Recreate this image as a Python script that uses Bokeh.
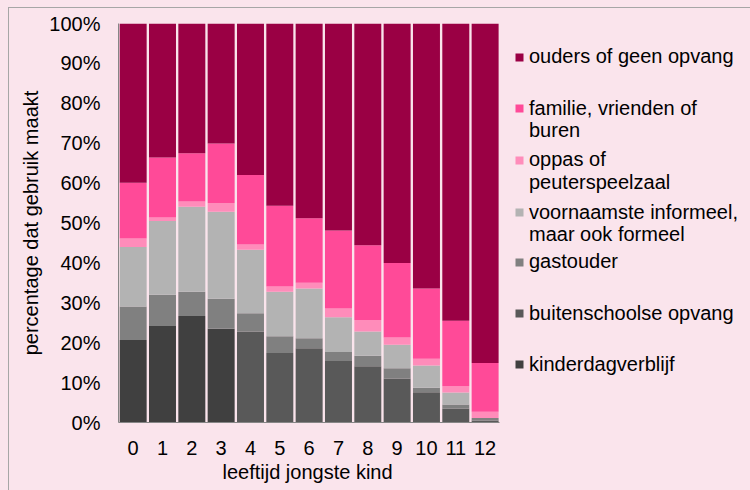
from bokeh.plotting import figure
from bokeh.models import Range1d, Legend, LegendItem, PrintfTickFormatter, FixedTicker, Title
from bokeh.embed import file_html
from bokeh.resources import INLINE

ages = [0, 1, 2, 3, 4, 5, 6, 7, 8, 9, 10, 11, 12]
kinderdagverblijf = [20.7, 24.2, 26.7, 23.5, 0, 0, 0, 0, 0, 0, 0, 0, 0]
buitenschoolse = [0, 0, 0, 0, 22.8, 17.4, 18.6, 15.4, 14.1, 11.0, 7.6, 3.5, 0.5]
gastouder = [8.4, 7.8, 6.1, 7.5, 4.6, 4.2, 2.5, 2.3, 2.6, 2.6, 1.1, 1.0, 0.6]
informeel = [14.9, 18.5, 21.3, 21.8, 15.9, 11.2, 12.5, 8.7, 6.1, 5.9, 5.6, 3.0, 0.0]
oppas = [2.1, 0.9, 1.3, 2.2, 1.3, 1.3, 1.4, 2.2, 2.9, 1.8, 1.7, 1.6, 1.6]
familie = [14.0, 15.0, 12.1, 14.9, 17.4, 20.2, 16.2, 19.5, 18.7, 18.7, 17.6, 16.4, 12.2]
ouders = [39.9, 33.6, 32.5, 30.1, 38.0, 45.7, 48.8, 51.9, 55.6, 60.0, 66.4, 74.5, 85.1]

keys = ["kdv", "bso", "gast", "inf", "oppas", "fam", "ouders"]
colors = ["#404040", "#595959", "#808080", "#B3B3B3", "#FF8CBA", "#FF4A98", "#9A0044"]
# legend lines, top to bottom: (series index or None for a continuation line, text)
legend_lines = [(6, "ouders of geen opvang"),
                (5, "familie, vrienden of"), (None, "buren"),
                (4, "oppas of"), (None, "peuterspeelzaal"),
                (3, "voornaamste informeel,"), (None, "maar ook formeel"),
                (2, "gastouder"),
                (1, "buitenschoolse opvang"),
                (0, "kinderdagverblijf")]
yticks = [0, 10, 20, 30, 40, 50, 60, 70, 80, 90, 100]
x_title = "leeftijd jongste kind"
y_title = "percentage dat gebruik maakt"

data = dict(age=ages, kdv=kinderdagverblijf, bso=buitenschoolse, gast=gastouder,
            inf=informeel, oppas=oppas, fam=familie, ouders=ouders)

BG = "#FAE4EC"
FONT = "Liberation Sans"
FS = "20px"

W, H = 750, 490
LEFT, TOP, BOTTOM = 118, 23, 68
UNIT = 29.33  # px per category
frame_w = W - LEFT
p = figure(x_range=Range1d(-0.5, -0.5 + frame_w / UNIT), y_range=Range1d(0, 100),
           width=W, height=H, output_backend="svg", toolbar_location=None,
           min_border_left=LEFT, min_border_right=0, min_border_top=TOP,
           min_border_bottom=BOTTOM)
p.styles = {"background": "linear-gradient(#A6A6A6, #A6A6A6) 8px 7px / 1px 100% no-repeat, "
                          "linear-gradient(#A6A6A6, #A6A6A6) 8px 7px / 100% 1px no-repeat, "
                          + BG}
p.background_fill_color = None
p.border_fill_color = None
p.outline_line_color = None

renderers = p.vbar_stack(keys, x="age", width=0.92, color=colors, source=data,
                         line_color=None)
blank = p.vbar(x=[], top=[], width=0.9, fill_alpha=0, line_alpha=0)

p.xgrid.visible = False
p.ygrid.visible = False

for ax in (p.xaxis[0], p.yaxis[0]):
    ax.axis_line_color = "#868686"
    ax.major_tick_line_color = None
    ax.minor_tick_line_color = None
    ax.major_tick_out = 0
    ax.major_tick_in = 0
    ax.minor_tick_out = 0
    ax.minor_tick_in = 0
    ax.major_label_text_font = FONT
    ax.major_label_text_font_size = FS
    ax.major_label_text_color = "#000000"
    ax.axis_label_text_font = FONT
    ax.axis_label_text_font_size = FS
    ax.axis_label_text_font_style = "normal"
    ax.axis_label_text_color = "#000000"

p.yaxis.ticker = FixedTicker(ticks=yticks)
p.yaxis.formatter = PrintfTickFormatter(format="%d%%")
p.yaxis.major_label_standoff = 18
p.yaxis.axis_label = y_title
p.yaxis.axis_label_standoff = 4
p.xaxis.ticker = FixedTicker(ticks=ages)
p.xaxis.bounds = (-0.5, 12.5)
p.xaxis.major_label_standoff = 18

# x-axis title centred under the bars (the frame extends under the legend)
p.add_layout(Title(text=x_title, align="left", offset=104, standoff=3,
                   text_font=FONT, text_font_size=FS, text_font_style="normal",
                   text_color="#000000"), "below")

# legend line centres (px from top of canvas), x of legend relative to frame
line_centres = [56.7, 108.3, 130.8, 159.5, 182.5, 212.0, 234.5, 261.5, 313.0, 364.0]
frame_bottom = H - BOTTOM
ITEM_H = 24
for (idx, text), c in zip(legend_lines, line_centres):
    r = renderers[idx] if idx is not None else blank
    lg = Legend(items=[LegendItem(label=text, renderers=[r])],
                location=(514 - LEFT, frame_bottom - c - ITEM_H / 2),
                background_fill_alpha=0, border_line_color=None,
                label_text_font=FONT, label_text_font_size=FS,
                label_text_color="#000000",
                glyph_width=10, glyph_height=10, label_standoff=5,
                label_height=ITEM_H, padding=0, margin=0, spacing=0)
    p.add_layout(lg, "center")

open("out.html", "w").write(file_html(p, INLINE))
